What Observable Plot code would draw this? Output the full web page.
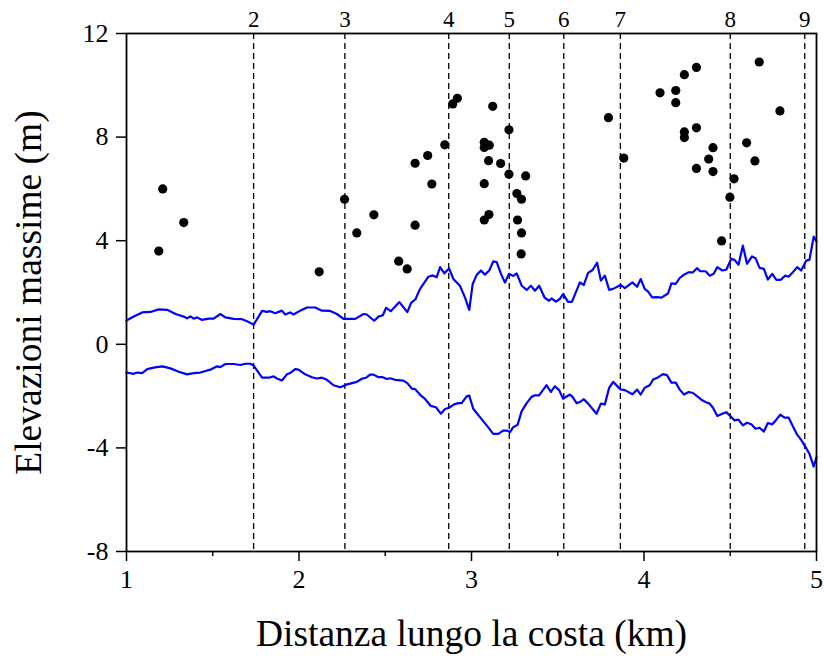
<!DOCTYPE html>
<html>
<head>
<meta charset="utf-8">
<script src="https://cdn.jsdelivr.net/npm/d3@7"></script>
<script src="https://cdn.jsdelivr.net/npm/@observablehq/plot@0.6"></script>
<style>
  html, body { margin: 0; padding: 0; background: white; }
  #chart { width: 824px; height: 656px; }
</style>
</head>
<body>
<div id="chart"></div>
<script>
// Upper envelope (blue line): distance (km), elevation (m)
const upperX = [1.000,1.042,1.091,1.139,1.187,1.236,1.284,1.332,1.351,1.370,1.390,1.409,1.438,1.477,1.505,1.544,1.573,1.621,1.670,1.699,1.737,1.786,1.814,1.834,1.862,1.901,1.920,1.949,1.968,2.007,2.046,2.094,2.133,2.181,2.220,2.258,2.297,2.326,2.374,2.393,2.436,2.461,2.486,2.505,2.532,2.582,2.628,2.650,2.675,2.702,2.750,2.775,2.798,2.818,2.843,2.870,2.895,2.933,2.962,2.987,3.007,3.030,3.055,3.078,3.103,3.126,3.146,3.171,3.194,3.217,3.242,3.262,3.291,3.320,3.344,3.368,3.392,3.425,3.450,3.464,3.489,3.512,3.531,3.560,3.582,3.609,3.628,3.651,3.676,3.702,3.728,3.750,3.773,3.798,3.821,3.864,3.889,3.933,3.960,3.981,4.004,4.024,4.047,4.072,4.101,4.139,4.159,4.184,4.207,4.232,4.259,4.284,4.307,4.327,4.357,4.381,4.404,4.425,4.454,4.477,4.506,4.525,4.548,4.573,4.597,4.626,4.647,4.670,4.695,4.718,4.744,4.767,4.792,4.819,4.838,4.863,4.888,4.911,4.940,4.959,4.984,5.000];
const upperY = [0.92,1.07,1.23,1.25,1.35,1.33,1.17,1.07,1.00,1.08,0.99,1.04,0.94,0.99,0.99,1.17,1.04,0.98,0.97,0.89,0.76,1.29,1.25,1.28,1.20,1.30,1.15,1.23,1.15,1.30,1.42,1.42,1.30,1.29,1.17,0.98,0.98,0.98,1.17,1.15,0.91,1.07,1.12,1.41,1.28,1.63,1.24,1.60,1.74,2.14,2.61,2.66,2.59,2.98,2.74,2.93,2.52,2.26,1.81,1.33,2.33,2.68,2.85,2.69,2.85,3.20,3.17,2.72,2.38,2.72,2.64,2.74,2.26,2.10,2.26,2.07,2.26,1.79,1.68,1.77,1.65,1.75,1.94,1.64,1.64,2.07,2.39,2.29,2.76,2.87,3.15,2.46,2.65,2.10,2.14,2.29,2.17,2.39,2.22,2.52,2.14,2.03,1.81,1.82,1.80,1.96,2.35,2.33,2.56,2.69,2.78,2.78,2.94,2.82,2.82,2.65,2.72,2.98,2.85,2.88,3.30,3.26,3.07,3.81,3.11,3.39,3.32,2.95,2.91,2.50,2.72,2.49,2.49,2.65,2.61,2.78,2.98,2.85,3.23,3.26,4.16,3.97];

// Lower envelope (blue line)
const lowerX = [1.000,1.042,1.062,1.091,1.120,1.158,1.207,1.255,1.303,1.351,1.390,1.428,1.486,1.525,1.544,1.573,1.621,1.660,1.689,1.718,1.737,1.786,1.824,1.853,1.872,1.901,1.930,1.949,1.978,1.997,2.036,2.075,2.104,2.133,2.162,2.200,2.239,2.278,2.297,2.335,2.364,2.389,2.412,2.432,2.461,2.486,2.509,2.528,2.557,2.605,2.628,2.654,2.673,2.702,2.731,2.764,2.794,2.822,2.847,2.870,2.899,2.924,2.943,2.972,2.987,3.010,3.049,3.088,3.126,3.155,3.184,3.204,3.223,3.242,3.267,3.291,3.320,3.348,3.368,3.392,3.435,3.460,3.483,3.508,3.531,3.570,3.586,3.609,3.628,3.651,3.676,3.725,3.750,3.773,3.798,3.821,3.864,3.889,3.933,3.960,3.981,4.004,4.033,4.053,4.081,4.110,4.133,4.159,4.184,4.207,4.232,4.259,4.284,4.333,4.357,4.381,4.400,4.425,4.454,4.477,4.506,4.525,4.548,4.573,4.597,4.622,4.647,4.670,4.695,4.718,4.744,4.767,4.790,4.815,4.838,4.863,4.888,4.911,4.940,4.959,4.984,5.000];
const lowerY = [-1.09,-1.14,-1.09,-1.11,-0.96,-0.90,-0.85,-0.93,-1.06,-1.16,-1.11,-1.09,-0.98,-0.85,-0.88,-0.76,-0.76,-0.80,-0.75,-0.75,-0.82,-1.29,-1.29,-1.24,-1.32,-1.40,-1.16,-1.11,-0.96,-0.98,-1.16,-1.27,-1.32,-1.29,-1.37,-1.58,-1.66,-1.55,-1.52,-1.45,-1.33,-1.29,-1.17,-1.17,-1.27,-1.27,-1.34,-1.31,-1.37,-1.40,-1.50,-1.71,-1.73,-1.95,-2.11,-2.38,-2.43,-2.68,-2.50,-2.45,-2.32,-2.27,-2.27,-2.01,-1.98,-2.49,-2.81,-3.13,-3.46,-3.46,-3.33,-3.33,-3.39,-3.20,-3.11,-2.58,-2.27,-2.03,-1.97,-1.97,-1.58,-1.84,-1.62,-1.77,-2.10,-1.94,-2.03,-2.27,-2.23,-2.12,-2.29,-2.68,-2.29,-2.32,-1.68,-1.45,-1.74,-1.77,-1.93,-1.75,-1.94,-1.68,-1.58,-1.36,-1.28,-1.15,-1.19,-1.48,-1.48,-1.75,-1.94,-1.84,-1.88,-2.14,-2.23,-2.29,-2.45,-2.77,-2.68,-2.62,-2.81,-2.94,-2.91,-3.13,-3.03,-3.09,-3.26,-3.22,-3.37,-3.04,-3.09,-2.91,-2.72,-2.83,-2.83,-3.16,-3.49,-3.69,-4.01,-4.23,-4.72,-4.36];

// Maximum elevations (black points)
const pointX = [1.210,1.332,1.187,2.117,2.264,2.335,2.434,2.578,2.627,2.673,2.673,2.746,2.770,2.845,2.891,2.918,3.123,3.217,3.074,3.103,3.074,3.099,3.169,3.217,3.314,3.074,3.263,3.290,3.101,3.074,3.267,3.290,3.288,3.794,3.883,4.093,4.184,4.184,4.234,4.304,4.234,4.234,4.304,4.400,4.375,4.304,4.400,4.522,4.498,4.450,4.668,4.788,4.595,4.643];
const pointY = [6.00,4.70,3.60,2.80,5.60,4.30,5.00,3.21,2.91,4.60,6.99,7.29,6.19,7.70,9.28,9.50,9.19,8.28,7.80,7.69,7.60,7.09,6.98,6.57,6.50,6.20,5.82,5.60,5.01,4.80,4.80,4.30,3.49,8.75,7.19,9.71,9.80,9.33,10.41,10.69,8.20,7.98,8.36,7.59,7.15,6.79,6.67,6.39,5.68,3.99,10.90,9.01,7.78,7.08];

// Section boundaries (dashed lines) and their labels
const sectionX = [1.737,2.266,2.868,3.219,3.535,3.863,4.500,4.932];
const sectionLabels = ["2","3","4","5","6","7","8","9"];

const xTicks = [1,2,3,4,5];
const xMinorTicks = [1.5,2.5,3.5,4.5];
const yTicks = [-8,-4,0,4,8,12];

const upper = upperX.map((x, i) => ({x, y: upperY[i]}));
const lower = lowerX.map((x, i) => ({x, y: lowerY[i]}));
const points = pointX.map((x, i) => ({x, y: pointY[i]}));
const sections = sectionX.map((x, i) => ({x, label: sectionLabels[i]}));

const font = "Liberation Serif";

const chart = Plot.plot({
  width: 824,
  height: 656,
  marginLeft: 126,
  marginRight: 8,
  marginTop: 33,
  marginBottom: 105,
  style: {fontFamily: "'Liberation Serif', serif", fontSize: "26px", background: "white", color: "black"},
  x: {domain: [1, 5]},
  y: {domain: [-8, 12]},
  marks: [
    Plot.ruleX(sections, {x: "x", stroke: "black", strokeWidth: 1.3, strokeDasharray: "6,4"}),
    Plot.text(sections, {x: "x", text: "label", frameAnchor: "top", dy: -7, lineAnchor: "bottom", fontSize: 23, fontFamily: font, fill: "black"}),
    Plot.line(upper, {x: "x", y: "y", stroke: "#0000ff", strokeWidth: 2.2}),
    Plot.line(lower, {x: "x", y: "y", stroke: "#0000ff", strokeWidth: 2.2}),
    Plot.dot(points, {x: "x", y: "y", r: 4.6, fill: "black", stroke: "none"}),
    Plot.axisX({ticks: xTicks, tickSize: 10, strokeWidth: 1.5, text: null, label: null}),
    Plot.axisX({ticks: xMinorTicks, tickSize: 5, strokeWidth: 1.5, text: null, label: null}),
    Plot.axisY({ticks: yTicks, tickSize: 10, strokeWidth: 1.5, text: null, label: null}),
    Plot.text(xTicks, {x: d => d, text: d => String(d), frameAnchor: "bottom", dy: 18, lineAnchor: "top", fontSize: 26, fontFamily: font, fill: "black"}),
    Plot.text(yTicks, {y: d => d, text: d => String(d), frameAnchor: "left", dx: -18, textAnchor: "end", lineAnchor: "middle", fontSize: 26, fontFamily: font, fill: "black"}),
    Plot.frame({stroke: "black", strokeWidth: 1.8}),
    Plot.text(["Distanza lungo la costa (km)"], {text: d => d, frameAnchor: "bottom", dy: 94, lineAnchor: "bottom", textAnchor: "middle", fontSize: 37.5, fontFamily: font, fill: "black"}),
    Plot.text(["Elevazioni massime (m)"], {text: d => d, frameAnchor: "left", dx: -86, rotate: -90, lineAnchor: "bottom", textAnchor: "middle", fontSize: 37.5, fontFamily: font, fill: "black"})
  ]
});
document.getElementById("chart").appendChild(chart);
</script>
</body>
</html>
